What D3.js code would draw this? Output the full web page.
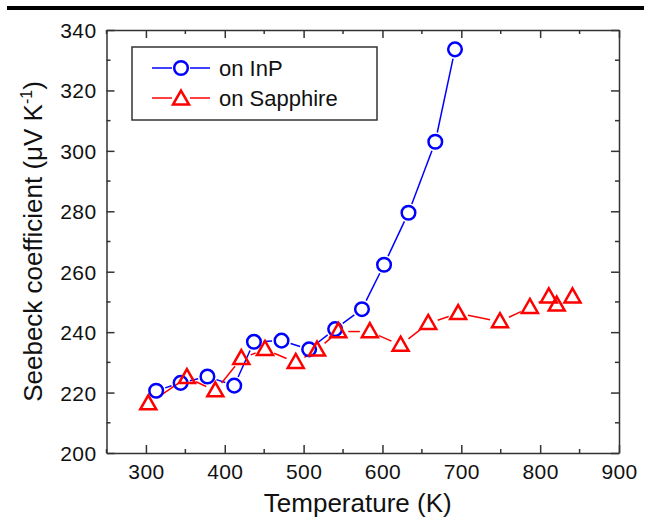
<!DOCTYPE html>
<html>
<head>
<meta charset="utf-8">
<script src="https://cdn.jsdelivr.net/npm/d3@7"></script>
<style>
  body { margin: 0; background: #fff; }
  text { font-family: "Liberation Sans", Arial, sans-serif; fill: #111; }
</style>
</head>
<body>
<div id="chart-area"></div>
<script>
// Data
const inpTemp = [313, 344, 378, 412, 437, 472, 507, 540, 574, 602, 633, 667, 692];
const inpSeebeck = [220.6, 223.2, 225.3, 222.3, 236.8, 237.2, 234.3, 241, 247.6, 262.3, 279.5, 303, 333.6];
const sapTemp = [303, 352, 388, 421, 451, 490, 517, 544, 584, 623, 658, 696, 749, 787, 811, 821, 841];
const sapSeebeck = [216.3, 225, 220.6, 231.3, 234.3, 230, 234.1, 240.2, 240.2, 235.7, 242.9, 246.2, 243.5, 248.2, 251.7, 249, 251.7];
const xTicks = [300, 400, 500, 600, 700, 800, 900];
const yTicks = [200, 220, 240, 260, 280, 300, 320, 340];
const seriesNames = ["on InP", "on Sapphire"];

const W = 651, H = 518;
const margin = { left: 106.5, right: 32, top: 30, bottom: 65 };
const width = W - margin.left - margin.right,
    height = H - margin.top - margin.bottom;

const svg = d3.select("#chart-area").append("svg")
    .attr("width", W)
    .attr("height", H);

// black rule at the very top
svg.append("rect")
    .attr("x", 7).attr("y", 6)
    .attr("width", 637).attr("height", 4)
    .attr("fill", "#000");

const g = svg.append("g")
    .attr("transform", "translate(" + margin.left + "," + margin.top + ")");

const x = d3.scaleLinear().domain([250, 900]).range([0, width]);
const y = d3.scaleLinear().domain([200, 340]).range([height, 0]);

const axisColor = "#333";

// Axes (ticks pointing inward)
const xMinor = d3.range(250, 901, 50);
const yMinor = d3.range(200, 341, 10);

const bottomAxis = g.append("g")
    .attr("transform", "translate(0," + height + ")")
    .call(d3.axisBottom(x).tickValues(xTicks).tickSizeInner(-8).tickSizeOuter(0).tickPadding(11));
const leftAxis = g.append("g")
    .call(d3.axisLeft(y).tickValues(yTicks).tickSizeInner(-8).tickSizeOuter(0).tickPadding(10));
const topAxis = g.append("g")
    .call(d3.axisTop(x).tickValues(xTicks).tickSizeInner(-8).tickSizeOuter(0).tickFormat(""));
const rightAxis = g.append("g")
    .attr("transform", "translate(" + width + ",0)")
    .call(d3.axisRight(y).tickValues(yTicks).tickSizeInner(-8).tickSizeOuter(0).tickFormat(""));

// minor ticks
g.append("g").selectAll("line").data(xMinor.filter(v => v % 100 !== 0)).join("line")
    .attr("x1", d => x(d)).attr("x2", d => x(d))
    .attr("y1", height).attr("y2", height - 4);
g.append("g").selectAll("line").data(xMinor.filter(v => v % 100 !== 0)).join("line")
    .attr("x1", d => x(d)).attr("x2", d => x(d))
    .attr("y1", 0).attr("y2", 4);
g.append("g").selectAll("line").data(yMinor.filter(v => v % 20 !== 0)).join("line")
    .attr("x1", 0).attr("x2", 4)
    .attr("y1", d => y(d)).attr("y2", d => y(d));
g.append("g").selectAll("line").data(yMinor.filter(v => v % 20 !== 0)).join("line")
    .attr("x1", width).attr("x2", width - 4)
    .attr("y1", d => y(d)).attr("y2", d => y(d));

g.selectAll("line").attr("stroke", axisColor).attr("stroke-width", 1.5);
g.selectAll(".domain").attr("stroke", axisColor).attr("stroke-width", 1.5);
g.selectAll(".tick text").attr("font-size", 21).attr("fill", "#111")
    .attr("letter-spacing", 0.4);
leftAxis.selectAll(".tick text").attr("dy", "0.36em");

// Axis titles
svg.append("text")
    .attr("x", margin.left + width / 2 - 5)
    .attr("y", 512)
    .attr("text-anchor", "middle")
    .attr("font-size", 26)
    .text("Temperature (K)");

const yTitle = svg.append("text")
    .attr("transform", "translate(42," + (margin.top + height / 2) + ") rotate(-90)")
    .attr("text-anchor", "middle")
    .attr("font-size", 26);
yTitle.append("tspan").text("Seebeck coefficient (\u03BCV K");
yTitle.append("tspan").attr("font-size", 16).attr("dy", -10).text("-1");
yTitle.append("tspan").attr("dy", 10).text(")");

// Series
const inp = inpTemp.map((t, i) => ({ t: t, s: inpSeebeck[i] }));
const sap = sapTemp.map((t, i) => ({ t: t, s: sapSeebeck[i] }));

const series = [
    { data: inp, color: "#0000ff", marker: "circle", gap: 9.5 },
    { data: sap, color: "#ff0000", marker: "triangle", gap: 10 }
];

const triPath = (cx, cy) => {
    const w = 8, h = 14;
    return "M" + cx + "," + (cy - h * 0.6) +
        "L" + (cx + w) + "," + (cy + h * 0.4) +
        "L" + (cx - w) + "," + (cy + h * 0.4) + "Z";
};

// connecting lines, stopping short of each marker
series.forEach((ser) => {
    const pts = ser.data.map(d => [x(d.t), y(d.s)]);
    const segs = [];
    for (let i = 0; i < pts.length - 1; i++) {
        const [x0, y0] = pts[i], [x1, y1] = pts[i + 1];
        const len = Math.hypot(x1 - x0, y1 - y0);
        if (len <= ser.gap * 2) continue;
        const ux = (x1 - x0) / len, uy = (y1 - y0) / len;
        segs.push([x0 + ux * ser.gap, y0 + uy * ser.gap, x1 - ux * ser.gap, y1 - uy * ser.gap]);
    }
    g.append("g").selectAll("line").data(segs).join("line")
        .attr("x1", d => d[0]).attr("y1", d => d[1])
        .attr("x2", d => d[2]).attr("y2", d => d[3])
        .attr("stroke", ser.color)
        .attr("stroke-width", 1.5);
});

series.forEach((ser) => {
    if (ser.marker === "circle") {
        g.append("g").selectAll("circle").data(ser.data).join("circle")
            .attr("cx", d => x(d.t)).attr("cy", d => y(d.s))
            .attr("r", 6.8)
            .attr("fill", "none")
            .attr("stroke", ser.color)
            .attr("stroke-width", 2.5);
    } else {
        g.append("g").selectAll("path").data(ser.data).join("path")
            .attr("d", d => triPath(x(d.t), y(d.s)))
            .attr("fill", "none")
            .attr("stroke", ser.color)
            .attr("stroke-width", 2.5)
            .attr("stroke-linejoin", "miter");
    }
});

// Legend
const legend = svg.append("g");
legend.append("rect")
    .attr("x", 132).attr("y", 47)
    .attr("width", 245).attr("height", 73)
    .attr("fill", "none")
    .attr("stroke", axisColor)
    .attr("stroke-width", 1.5);

series.forEach((ser, i) => {
    const ly = 68 + i * 30;
    legend.append("line").attr("x1", 152).attr("x2", 172).attr("y1", ly).attr("y2", ly)
        .attr("stroke", ser.color).attr("stroke-width", 1.5);
    legend.append("line").attr("x1", 190).attr("x2", 210).attr("y1", ly).attr("y2", ly)
        .attr("stroke", ser.color).attr("stroke-width", 1.5);
    if (ser.marker === "circle") {
        legend.append("circle").attr("cx", 181).attr("cy", ly).attr("r", 6.8)
            .attr("fill", "none").attr("stroke", ser.color).attr("stroke-width", 2.5);
    } else {
        legend.append("path").attr("d", triPath(181, ly + 1))
            .attr("fill", "none").attr("stroke", ser.color).attr("stroke-width", 2.5);
    }
    legend.append("text")
        .attr("x", 219).attr("y", ly + 7.5)
        .attr("font-size", 22)
        .text(seriesNames[i]);
});
</script>
</body>
</html>
